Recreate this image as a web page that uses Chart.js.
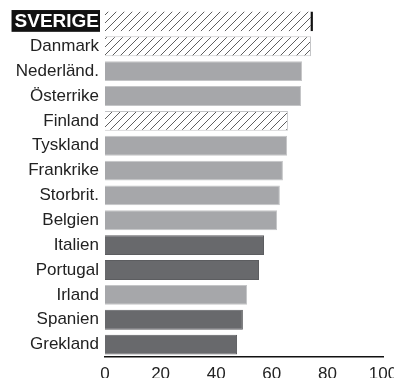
<!DOCTYPE html>
<html>
<head>
<meta charset="utf-8">
<style>
  html, body { margin: 0; padding: 0; background: #fff; overflow: hidden; }
  #wrap { width: 394px; height: 384px; }
</style>
<script src="https://cdn.jsdelivr.net/npm/chart.js@4"></script>
</head>
<body>
<div id="wrap"><canvas id="grafico" width="394" height="384"></canvas></div>
<script>
const paises = ["SVERIGE", "Danmark", "Nederländ.", "Österrike", "Finland", "Tyskland", "Frankrike",
  "Storbrit.", "Belgien", "Italien", "Portugal", "Irland", "Spanien", "Grekland"];
const valores = [74.8, 74.1, 70.9, 70.5, 65.8, 65.5, 64.0, 62.9, 61.9, 57.2, 55.4, 51.1, 49.6, 47.5];
// tipo de barra: h = hachurada, c = cinza claro, e = cinza escuro
const tipos = ["h", "h", "c", "c", "h", "c", "c", "c", "c", "e", "e", "c", "e", "e"];
const ticksX = [0, 20, 40, 60, 80, 100];

function hachura() {
  const c = document.createElement("canvas");
  c.width = 8;
  c.height = 8;
  const g = c.getContext("2d");
  g.fillStyle = "#fff";
  g.fillRect(0, 0, 8, 8);
  g.strokeStyle = "#5e5e5e";
  g.lineWidth = 1;
  g.beginPath();
  g.moveTo(-1, 9); g.lineTo(9, -1);
  g.moveTo(-1, 1); g.lineTo(1, -1);
  g.moveTo(7, 9); g.lineTo(9, 7);
  g.stroke();
  return g.createPattern(c, "repeat");
}

function grafico() {
  const ctx = document.getElementById("grafico").getContext("2d");
  const padrao = hachura();

  const cores = tipos.map((t) => (t === "h" ? padrao : t === "c" ? "#a6a7aa" : "#68696c"));
  const bordas = tipos.map((t, i) => (i === 0 ? "#111" : t === "e" ? "#5c5d60" : "#c4c5c7"));
  const larguras = tipos.map((t, i) =>
    i === 0 ? { top: 0, right: 2.5, bottom: 0, left: 0 } : 1
  );

  new Chart(ctx, {
    type: "bar",
    data: {
      labels: paises,
      datasets: [
        {
          data: valores,
          backgroundColor: cores,
          borderColor: bordas,
          borderWidth: larguras,
          borderSkipped: "start",
          barPercentage: 0.8,
          categoryPercentage: 1,
        },
      ],
    },
    options: {
      indexAxis: "y",
      responsive: false,
      animation: false,
      layout: { padding: { top: 9, right: 11, bottom: 0, left: 0 } },
      plugins: { legend: { display: false }, tooltip: { enabled: false } },
      scales: {
        x: {
          min: 0,
          max: 100,
          afterBuildTicks: (scale) => {
            scale.ticks = ticksX.map((v) => ({ value: v }));
          },
          afterFit: (scale) => {
            scale.height = 27;
            scale.paddingLeft = 0;
            scale.paddingRight = 0;
          },
          grid: { display: false, drawTicks: false },
          border: { display: true, color: "#111", width: 1.5 },
          ticks: {
            color: "#222",
            padding: 7,
            maxRotation: 0,
            font: { family: "Liberation Sans", size: 17 },
          },
        },
        y: {
          afterFit: (scale) => {
            scale.width = 105;
            scale.paddingTop = 0;
            scale.paddingBottom = 0;
          },
          grid: { display: false, drawTicks: false },
          border: { display: false },
          ticks: {
            autoSkip: false,
            padding: 6,
            color: (c) => (c.index === 0 ? "#fff" : "#222"),
            font: (c) =>
              c.index === 0
                ? { family: "Liberation Sans", size: 19, weight: "bold" }
                : { family: "Liberation Sans", size: 17 },
            showLabelBackdrop: (c) => c.index === 0,
            backdropColor: "#111",
            backdropPadding: { top: 0, bottom: -1, left: 3, right: 1 },
          },
        },
      },
    },
  });
}

grafico();
</script>
</body>
</html>
